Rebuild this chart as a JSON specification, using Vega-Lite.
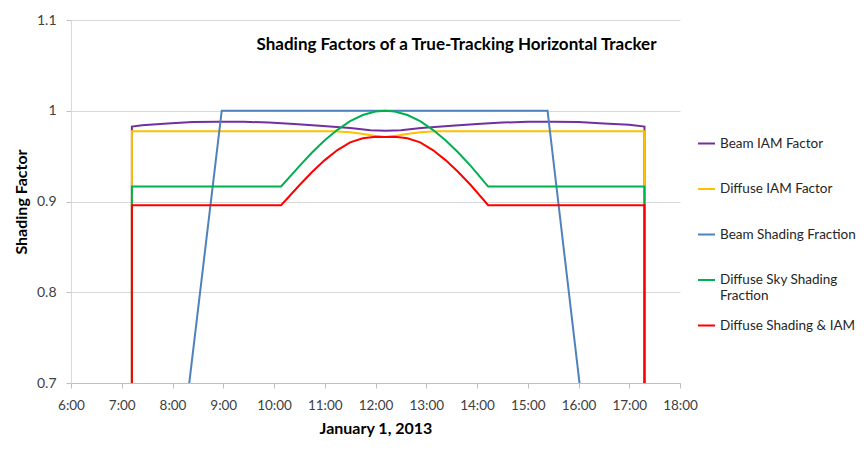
{
  "$schema": "https://vega.github.io/schema/vega-lite/v6.json",
  "width": 609,
  "height": 363,
  "autosize": {"type": "none"},
  "padding": {"left": 71, "top": 20, "right": 187, "bottom": 72},
  "background": "white",
  "title": {
    "text": "Shading Factors of a True-Tracking Horizontal Tracker",
    "font": "Lato",
    "fontSize": 17,
    "fontWeight": "bold",
    "color": "#000000",
    "anchor": "middle",
    "frame": "group",
    "dx": 81,
    "dy": 41,
    "offset": 0
  },
  "data": {
    "values": [
      {"s": "Beam IAM Factor", "i": 0, "t": 7.2, "v": 0},
      {"s": "Beam IAM Factor", "i": 1, "t": 7.2, "v": 0.9825},
      {"s": "Beam IAM Factor", "i": 2, "t": 7.4, "v": 0.984},
      {"s": "Beam IAM Factor", "i": 3, "t": 7.9, "v": 0.986},
      {"s": "Beam IAM Factor", "i": 4, "t": 8.4, "v": 0.9875},
      {"s": "Beam IAM Factor", "i": 5, "t": 8.9, "v": 0.988},
      {"s": "Beam IAM Factor", "i": 6, "t": 9.4, "v": 0.9878},
      {"s": "Beam IAM Factor", "i": 7, "t": 9.9, "v": 0.987},
      {"s": "Beam IAM Factor", "i": 8, "t": 10.4, "v": 0.9855},
      {"s": "Beam IAM Factor", "i": 9, "t": 10.9, "v": 0.9835},
      {"s": "Beam IAM Factor", "i": 10, "t": 11.5, "v": 0.981},
      {"s": "Beam IAM Factor", "i": 11, "t": 11.9, "v": 0.9785},
      {"s": "Beam IAM Factor", "i": 12, "t": 12.2, "v": 0.978},
      {"s": "Beam IAM Factor", "i": 13, "t": 12.5, "v": 0.9785},
      {"s": "Beam IAM Factor", "i": 14, "t": 12.9, "v": 0.981},
      {"s": "Beam IAM Factor", "i": 15, "t": 13.5, "v": 0.9835},
      {"s": "Beam IAM Factor", "i": 16, "t": 14.0, "v": 0.9855},
      {"s": "Beam IAM Factor", "i": 17, "t": 14.5, "v": 0.987},
      {"s": "Beam IAM Factor", "i": 18, "t": 15.0, "v": 0.9878},
      {"s": "Beam IAM Factor", "i": 19, "t": 15.5, "v": 0.988},
      {"s": "Beam IAM Factor", "i": 20, "t": 16.0, "v": 0.9875},
      {"s": "Beam IAM Factor", "i": 21, "t": 16.5, "v": 0.986},
      {"s": "Beam IAM Factor", "i": 22, "t": 17.0, "v": 0.9845},
      {"s": "Beam IAM Factor", "i": 23, "t": 17.3, "v": 0.9825},
      {"s": "Beam IAM Factor", "i": 24, "t": 17.3, "v": 0},

      {"s": "Diffuse IAM Factor", "i": 0, "t": 7.2, "v": 0},
      {"s": "Diffuse IAM Factor", "i": 1, "t": 7.2, "v": 0.9775},
      {"s": "Diffuse IAM Factor", "i": 2, "t": 11.17, "v": 0.9775},
      {"s": "Diffuse IAM Factor", "i": 3, "t": 11.5, "v": 0.9762},
      {"s": "Diffuse IAM Factor", "i": 4, "t": 11.8, "v": 0.974},
      {"s": "Diffuse IAM Factor", "i": 5, "t": 12.0, "v": 0.9722},
      {"s": "Diffuse IAM Factor", "i": 6, "t": 12.19, "v": 0.971},
      {"s": "Diffuse IAM Factor", "i": 7, "t": 12.38, "v": 0.9722},
      {"s": "Diffuse IAM Factor", "i": 8, "t": 12.58, "v": 0.974},
      {"s": "Diffuse IAM Factor", "i": 9, "t": 12.88, "v": 0.9762},
      {"s": "Diffuse IAM Factor", "i": 10, "t": 13.2, "v": 0.9775},
      {"s": "Diffuse IAM Factor", "i": 11, "t": 17.3, "v": 0.9775},
      {"s": "Diffuse IAM Factor", "i": 12, "t": 17.3, "v": 0},

      {"s": "Beam Shading Fraction", "i": 0, "t": 7.2, "v": 0},
      {"s": "Beam Shading Fraction", "i": 1, "t": 7.2, "v": 0.17},
      {"s": "Beam Shading Fraction", "i": 2, "t": 8.97, "v": 1.0},
      {"s": "Beam Shading Fraction", "i": 3, "t": 15.39, "v": 1.0},
      {"s": "Beam Shading Fraction", "i": 4, "t": 17.3, "v": 0.09},
      {"s": "Beam Shading Fraction", "i": 5, "t": 17.3, "v": 0},

      {"s": "Diffuse Sky Shading Fraction", "i": 0, "t": 7.2, "v": 0},
      {"s": "Diffuse Sky Shading Fraction", "i": 1, "t": 7.2, "v": 0.9165},
      {"s": "Diffuse Sky Shading Fraction", "i": 2, "t": 10.14, "v": 0.9165},
      {"s": "Diffuse Sky Shading Fraction", "i": 3, "t": 10.5, "v": 0.939},
      {"s": "Diffuse Sky Shading Fraction", "i": 4, "t": 10.75, "v": 0.954},
      {"s": "Diffuse Sky Shading Fraction", "i": 5, "t": 11.0, "v": 0.9674},
      {"s": "Diffuse Sky Shading Fraction", "i": 6, "t": 11.25, "v": 0.979},
      {"s": "Diffuse Sky Shading Fraction", "i": 7, "t": 11.5, "v": 0.9886},
      {"s": "Diffuse Sky Shading Fraction", "i": 8, "t": 11.75, "v": 0.9953},
      {"s": "Diffuse Sky Shading Fraction", "i": 9, "t": 12.0, "v": 0.9991},
      {"s": "Diffuse Sky Shading Fraction", "i": 10, "t": 12.19, "v": 1.0},
      {"s": "Diffuse Sky Shading Fraction", "i": 11, "t": 12.38, "v": 0.9991},
      {"s": "Diffuse Sky Shading Fraction", "i": 12, "t": 12.63, "v": 0.9953},
      {"s": "Diffuse Sky Shading Fraction", "i": 13, "t": 12.88, "v": 0.9886},
      {"s": "Diffuse Sky Shading Fraction", "i": 14, "t": 13.13, "v": 0.979},
      {"s": "Diffuse Sky Shading Fraction", "i": 15, "t": 13.38, "v": 0.9674},
      {"s": "Diffuse Sky Shading Fraction", "i": 16, "t": 13.63, "v": 0.954},
      {"s": "Diffuse Sky Shading Fraction", "i": 17, "t": 13.88, "v": 0.939},
      {"s": "Diffuse Sky Shading Fraction", "i": 18, "t": 14.22, "v": 0.9165},
      {"s": "Diffuse Sky Shading Fraction", "i": 19, "t": 17.3, "v": 0.9165},
      {"s": "Diffuse Sky Shading Fraction", "i": 20, "t": 17.3, "v": 0},

      {"s": "Diffuse Shading & IAM", "i": 0, "t": 7.2, "v": 0},
      {"s": "Diffuse Shading & IAM", "i": 1, "t": 7.2, "v": 0.8959},
      {"s": "Diffuse Shading & IAM", "i": 2, "t": 10.14, "v": 0.8959},
      {"s": "Diffuse Shading & IAM", "i": 3, "t": 10.5, "v": 0.9179},
      {"s": "Diffuse Shading & IAM", "i": 4, "t": 10.75, "v": 0.9325},
      {"s": "Diffuse Shading & IAM", "i": 5, "t": 11.0, "v": 0.9456},
      {"s": "Diffuse Shading & IAM", "i": 6, "t": 11.25, "v": 0.9567},
      {"s": "Diffuse Shading & IAM", "i": 7, "t": 11.5, "v": 0.9651},
      {"s": "Diffuse Shading & IAM", "i": 8, "t": 11.75, "v": 0.9696},
      {"s": "Diffuse Shading & IAM", "i": 9, "t": 12.0, "v": 0.9713},
      {"s": "Diffuse Shading & IAM", "i": 10, "t": 12.19, "v": 0.971},
      {"s": "Diffuse Shading & IAM", "i": 11, "t": 12.38, "v": 0.9713},
      {"s": "Diffuse Shading & IAM", "i": 12, "t": 12.63, "v": 0.9696},
      {"s": "Diffuse Shading & IAM", "i": 13, "t": 12.88, "v": 0.9651},
      {"s": "Diffuse Shading & IAM", "i": 14, "t": 13.13, "v": 0.9567},
      {"s": "Diffuse Shading & IAM", "i": 15, "t": 13.38, "v": 0.9456},
      {"s": "Diffuse Shading & IAM", "i": 16, "t": 13.63, "v": 0.9325},
      {"s": "Diffuse Shading & IAM", "i": 17, "t": 13.88, "v": 0.9179},
      {"s": "Diffuse Shading & IAM", "i": 18, "t": 14.22, "v": 0.8959},
      {"s": "Diffuse Shading & IAM", "i": 19, "t": 17.3, "v": 0.8959},
      {"s": "Diffuse Shading & IAM", "i": 20, "t": 17.3, "v": 0}
    ]
  },
  "mark": {"type": "line", "strokeWidth": 2, "clip": true, "interpolate": "linear"},
  "encoding": {
    "x": {
      "field": "t",
      "type": "quantitative",
      "scale": {"domain": [6, 18], "nice": false, "zero": false},
      "axis": {
        "title": "January 1, 2013",
        "values": [6, 7, 8, 9, 10, 11, 12, 13, 14, 15, 16, 17, 18],
        "labelExpr": "datum.value + ':00'",
        "labelOverlap": false,
        "labelBound": false,
        "labelFlush": false,
        "grid": false,
        "domainColor": "#bfbfbf",
        "tickColor": "#bfbfbf",
        "tickSize": 5,
        "labelFont": "Lato",
        "labelFontSize": 13.5,
        "labelColor": "#404040",
        "labelPadding": 10,
        "titleFont": "Lato",
        "titleFontSize": 16,
        "titleFontWeight": "bold",
        "titleColor": "#000000",
        "titlePadding": 9
      }
    },
    "y": {
      "field": "v",
      "type": "quantitative",
      "scale": {"domain": [0.7, 1.1], "nice": false, "zero": false},
      "axis": {
        "title": "Shading Factor",
        "values": [0.7, 0.8, 0.9, 1.0, 1.1],
        "labelExpr": "datum.value == 1 ? '1' : format(datum.value, '.1f')",
        "labelOverlap": false,
        "labelFlush": false,
        "grid": true,
        "gridColor": "#d9d9d9",
        "domainColor": "#d9d9d9",
        "tickColor": "#bfbfbf",
        "tickSize": 5,
        "labelFont": "Lato",
        "labelFontSize": 14,
        "labelColor": "#404040",
        "labelPadding": 10,
        "titleFont": "Lato",
        "titleFontSize": 16,
        "titleFontWeight": "bold",
        "titleColor": "#000000",
        "titlePadding": 7
      }
    },
    "color": {
      "field": "s",
      "type": "nominal",
      "scale": {
        "domain": ["Beam IAM Factor", "Diffuse IAM Factor", "Beam Shading Fraction", "Diffuse Sky Shading Fraction", "Diffuse Shading & IAM"],
        "range": ["#7030A0", "#FFC000", "#4F81BD", "#00B050", "#FF0000"]
      },
      "legend": {
        "title": null,
        "orient": "none",
        "legendX": 626,
        "legendY": 114,
        "padding": 0,
        "symbolType": "stroke",
        "symbolSize": 289,
        "symbolStrokeWidth": 2,
        "labelFont": "Lato",
        "labelFontSize": 13.5,
        "labelColor": "#262626",
        "labelOffset": 4,
        "labelLimit": 300,
        "rowPadding": 13.5,
        "gridAlign": "all",
        "labelExpr": "datum.label == 'Diffuse Sky Shading Fraction' ? ['Diffuse Sky Shading', 'Fraction'] : datum.label"
      }
    },
    "order": {"field": "i", "type": "quantitative"}
  },
  "config": {
    "view": {"stroke": null}
  }
}
